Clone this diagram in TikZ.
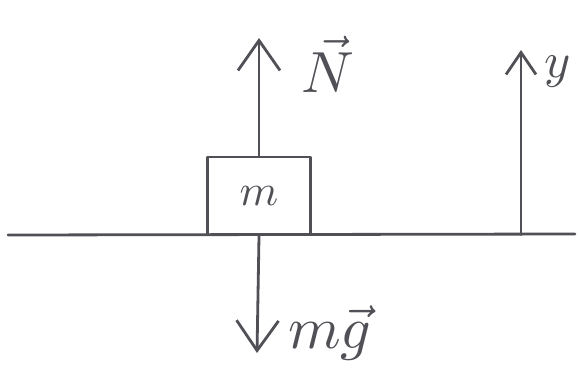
\documentclass[tikz,border=0pt]{standalone}
\usepackage{graphicx}
\usetikzlibrary{arrows.meta}
\definecolor{pencil}{RGB}{80,80,86}
\newcommand{\bigtxt}[2]{\scalebox{#1}{#2}}
\begin{document}
\begin{tikzpicture}[x=1pt,y=-1pt,
  pen/.style={draw=pencil, line width=2.8pt, line cap=round, line join=round},
  force/.style={pen, -{Straight Barb[length=30pt,width=42pt,line width=2.8pt]}},
  axis/.style={pen, -{Straight Barb[length=22pt,width=30pt,line width=2.8pt]}},
  blockbox/.style={pen, minimum width=103pt, minimum height=78pt, inner sep=0pt, text=pencil},
  lab/.style={text=pencil, inner sep=0pt}]
\useasboundingbox (0,0) rectangle (580,381);
\coordinate (gl) at (8,235);
\coordinate (gr) at (575,234);
\draw[pen] (gl) -- (gr);
\node[blockbox] (blk) at (259,196) {\bigtxt{4.4}{$m$}};
\coordinate (Ntip) at (259,38);
\coordinate (gtip) at (257,353);
\draw[force] (blk.north) -- (Ntip);
\draw[force] (blk.south) -- (gtip);
\coordinate (yo) at (521,234.5);
\coordinate (ytip) at (521,50);
\draw[axis] (yo) -- (ytip);
\node[lab] (Nlab) at (328,64) {\bigtxt{5.8}{$\vec{N}$}};
\node[lab] (mglab) at (330,333) {\bigtxt{6}{$m\vec{g}$}};
\node[lab] (ylab) at (558,72) {\bigtxt{5}{$y$}};
\end{tikzpicture}
\end{document}
